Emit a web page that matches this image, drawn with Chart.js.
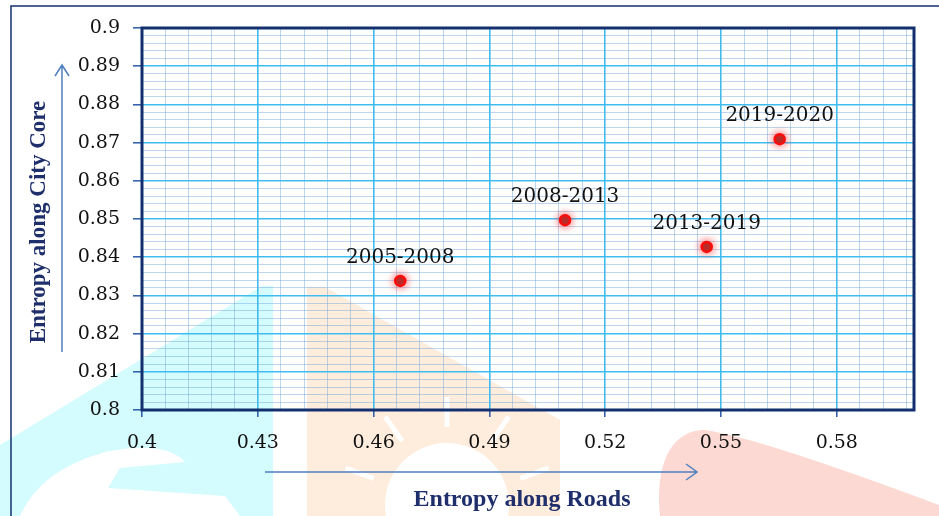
<!DOCTYPE html>
<html>
<head>
<meta charset="utf-8">
<script src="https://cdn.jsdelivr.net/npm/chart.js@4"></script>
<style>
  html, body { margin: 0; padding: 0; background: #fff; }
  #wrap { width: 939px; height: 516px; position: relative; }
</style>
</head>
<body>
<div id="wrap"><canvas id="grafico"></canvas></div>
<script>
// Dados
const periodos = ['2005-2008', '2008-2013', '2013-2019', '2019-2020'];
const entropiaVias = [0.4669, 0.5096, 0.5463, 0.5652];
const entropiaNucleo = [0.8338, 0.8497, 0.8427, 0.8709];

// Eixos
const xMin = 0.4, xMax = 0.6, xPassoMenor = 0.006;
const yMin = 0.8, yMax = 0.9, yPassoMenor = 0.002;
const xRotulos = ['0.4', '0.43', '0.46', '0.49', '0.52', '0.55', '0.58'];
const yRotulos = ['0.8', '0.81', '0.82', '0.83', '0.84', '0.85', '0.86', '0.87', '0.88', '0.89', '0.9'];

const tituloX = 'Entropy along Roads';
const tituloY = 'Entropy along City Core';

// valores das linhas de grade (5 subdivisões por divisão principal)
function valoresGrade(min, max, passo) {
  const lista = [];
  for (let i = 0; min + i * passo <= max + 1e-9; i++) {
    lista.push({ value: +(min + i * passo).toFixed(4) });
  }
  return lista;
}

const corPrincipal = '#40bdf0';
const corMenor = 'rgba(110,165,215,0.45)';
const corMarca = '#2a5caa';
const azulEscuro = '#13306e';

// marca d'água de fundo
function desenharFundo(ctx) {
  ctx.save();
  ctx.fillStyle = '#d4fbfd';
  ctx.beginPath();
  ctx.moveTo(0, 445);
  ctx.lineTo(262, 286);
  ctx.lineTo(273, 286);
  ctx.lineTo(273, 516);
  ctx.lineTo(0, 516);
  ctx.closePath();
  ctx.fill();

  ctx.fillStyle = '#ffffff';
  ctx.beginPath();
  ctx.moveTo(20, 516);
  ctx.quadraticCurveTo(40, 470, 105, 452);
  ctx.quadraticCurveTo(165, 440, 185, 462);
  ctx.lineTo(120, 468);
  ctx.lineTo(108, 488);
  ctx.lineTo(225, 496);
  ctx.lineTo(240, 516);
  ctx.closePath();
  ctx.fill();

  ctx.fillStyle = '#feecdc';
  ctx.beginPath();
  ctx.moveTo(307, 287);
  ctx.lineTo(325, 287);
  ctx.lineTo(560, 420);
  ctx.lineTo(560, 516);
  ctx.lineTo(307, 516);
  ctx.closePath();
  ctx.fill();

  ctx.fillStyle = '#ffffff';
  ctx.beginPath();
  ctx.arc(447, 505, 62, 0, Math.PI * 2);
  ctx.fill();
  ctx.strokeStyle = '#ffffff';
  ctx.lineWidth = 5;
  [-160, -125, -90, -55, -20].forEach(a => {
    const r = a * Math.PI / 180;
    ctx.beginPath();
    ctx.moveTo(447 + Math.cos(r) * 78, 505 + Math.sin(r) * 78);
    ctx.lineTo(447 + Math.cos(r) * 108, 505 + Math.sin(r) * 108);
    ctx.stroke();
  });

  ctx.fillStyle = '#fdd9d3';
  ctx.beginPath();
  ctx.moveTo(660, 516);
  ctx.bezierCurveTo(655, 470, 668, 430, 705, 430);
  ctx.quadraticCurveTo(760, 438, 939, 505);
  ctx.lineTo(939, 516);
  ctx.closePath();
  ctx.fill();

  // moldura externa
  ctx.strokeStyle = azulEscuro;
  ctx.lineWidth = 1.5;
  ctx.beginPath();
  ctx.moveTo(11, 516);
  ctx.lineTo(11, 6);
  ctx.lineTo(939, 6);
  ctx.stroke();
  ctx.restore();
}

const pluginDecoracao = {
  id: 'decoracao',
  beforeDraw(chart) {
    desenharFundo(chart.ctx);
  },
  beforeDatasetsDraw(chart) {
    const ctx = chart.ctx;
    ctx.save();
    ctx.shadowColor = 'rgba(255,30,30,0.75)';
    ctx.shadowBlur = 9;
  },
  afterDatasetsDraw(chart) {
    const ctx = chart.ctx;
    ctx.restore();
    // rótulos dos pontos
    const meta = chart.getDatasetMeta(0);
    ctx.save();
    ctx.font = '20px "DejaVu Serif"';
    ctx.fillStyle = '#111';
    ctx.textAlign = 'center';
    ctx.textBaseline = 'alphabetic';
    meta.data.forEach((pt, i) => {
      ctx.fillText(periodos[i], pt.x, pt.y - 18);
    });
    ctx.restore();
  },
  afterDraw(chart) {
    const ctx = chart.ctx;
    const a = chart.chartArea;
    ctx.save();
    // moldura da área do gráfico
    ctx.strokeStyle = azulEscuro;
    ctx.lineWidth = 3;
    ctx.strokeRect(a.left, a.top, a.right - a.left, a.bottom - a.top);

    // títulos dos eixos
    ctx.fillStyle = '#1f2f6b';
    ctx.font = 'bold 24px "Liberation Serif"';
    ctx.textAlign = 'center';
    ctx.textBaseline = 'alphabetic';
    ctx.fillText(tituloX, 522, 506);
    ctx.save();
    ctx.translate(45, 222);
    ctx.rotate(-Math.PI / 2);
    ctx.font = 'bold 23px "Liberation Serif"';
    ctx.fillText(tituloY, 0, 0);
    ctx.restore();

    // setas
    ctx.strokeStyle = '#4f7fbf';
    ctx.lineWidth = 1.5;
    ctx.beginPath();
    ctx.moveTo(62, 352); ctx.lineTo(62, 65);
    ctx.moveTo(55, 76); ctx.lineTo(62, 65); ctx.lineTo(69, 76);
    ctx.moveTo(265, 472); ctx.lineTo(697, 472);
    ctx.moveTo(686, 464); ctx.lineTo(697, 472); ctx.lineTo(686, 480);
    ctx.stroke();
    ctx.restore();
  }
};

const ctx = document.getElementById('grafico').getContext('2d');
const grafico = new Chart(ctx, {
  type: 'scatter',
  data: {
    labels: periodos,
    datasets: [{
      label: 'Entropia',
      data: entropiaVias.map((x, i) => ({ x: x, y: entropiaNucleo[i] })),
      pointRadius: 5,
      pointHoverRadius: 5,
      backgroundColor: '#a8302c',
      borderColor: '#ff0a0a',
      borderWidth: 2.5
    }]
  },
  options: {
    responsive: true,
    maintainAspectRatio: false,
    animation: false,
    layout: { padding: { top: 28, right: 25, left: 0, bottom: 0 } },
    plugins: {
      legend: { display: false },
      tooltip: { enabled: false }
    },
    scales: {
      x: {
        type: 'linear',
        min: xMin,
        max: xMax,
        afterBuildTicks: s => { s.ticks = valoresGrade(xMin, xMax, xPassoMenor); },
        afterFit: s => { s.height = 106; },
        border: { display: false },
        grid: {
          color: c => c.index % 5 === 0 ? corPrincipal : corMenor,
          lineWidth: c => c.index % 5 === 0 ? 1.6 : 1,
          tickColor: c => c.index % 5 === 0 ? corMarca : 'rgba(0,0,0,0)',
          tickLength: 7,
          tickWidth: 1.5
        },
        ticks: {
          autoSkip: false,
          maxRotation: 0,
          padding: 15,
          color: '#111',
          font: { family: '"DejaVu Serif"', size: 19 },
          callback: (v, i) => i % 5 === 0 ? (xRotulos[i / 5] || '') : ''
        }
      },
      y: {
        type: 'linear',
        min: yMin,
        max: yMax,
        afterBuildTicks: s => { s.ticks = valoresGrade(yMin, yMax, yPassoMenor); },
        afterFit: s => { s.width = 142; },
        border: { display: false },
        grid: {
          color: c => c.index % 5 === 0 ? corPrincipal : corMenor,
          lineWidth: c => c.index % 5 === 0 ? 1.6 : 1,
          tickColor: c => c.index % 5 === 0 ? corMarca : 'rgba(0,0,0,0)',
          tickLength: 9,
          tickWidth: 1.5
        },
        ticks: {
          autoSkip: false,
          padding: 13,
          color: '#111',
          font: { family: '"DejaVu Serif"', size: 19 },
          callback: (v, i) => i % 5 === 0 ? (yRotulos[i / 5] || '') : ''
        }
      }
    }
  },
  plugins: [pluginDecoracao]
});
</script>
</body>
</html>
